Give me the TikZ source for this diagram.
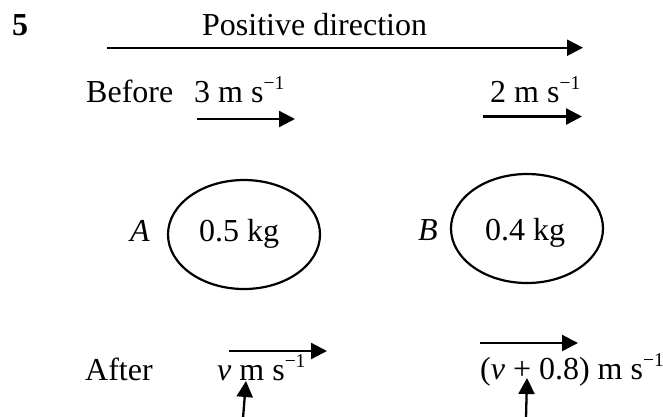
\documentclass[tikz,border=0pt]{standalone}
\usepackage{fontspec}
\setmainfont{Liberation Serif}
\usetikzlibrary{arrows.meta,shapes.geometric}
\newcommand{\supmo}{\raisebox{12.5pt}{\fontsize{19.5}{20}\selectfont −1}}
\begin{document}
\begin{tikzpicture}[x=1pt,y=-1pt,
  txt/.style={anchor=base west, inner sep=0pt, font=\fontsize{32}{38}\selectfont},
  arr/.style={line width=2.3pt, -{Triangle[length=16pt,width=16pt]}},
  ball/.style={draw, ellipse, line width=2.2pt, minimum width=152pt, minimum height=109pt, inner sep=0pt}]
\useasboundingbox (0,0) rectangle (663,416);
% texts
\node[txt] (num) at (12,35) {\textbf{5}};
\node[txt] (pos) at (202,35) {Positive direction};
\node[txt] (before) at (86,102) {Before};
\node[txt] (va) at (194,102) {3 m s\supmo};
\node[txt] (vb) at (490,102) {2 m s\supmo};
\node[txt] (la) at (130,241) {\textit{A}};
\node[txt] (lb) at (418,240) {\textit{B}};
\node[ball] (ea) at (244,234.5) {};
\node[ball] (eb) at (527,228.5) {};
\node[txt] (ma) at (199,241) {0.5 kg};
\node[txt] (mb) at (485,240) {0.4 kg};
\node[txt] (after) at (85,380) {After};
\node[txt] (ua) at (217,380) {\textit{v} m s\supmo};
\node[txt] (ub) at (480,379) {(\textit{v} + 0.8) m s\supmo};
% arrow ends
\coordinate (p1) at (107,47.7);  \coordinate (p2) at (583,47.7);
\coordinate (a1) at (197,119);   \coordinate (a2) at (295,119);
\coordinate (b1) at (483,116.5); \coordinate (b2) at (582,116.5);
\coordinate (c1) at (229,351);   \coordinate (c2) at (327,351);
\coordinate (d1) at (480,343);   \coordinate (d2) at (578,343);
\coordinate (e1) at (243,418);   \coordinate (e2) at (246,381);
\coordinate (f1) at (526,418);   \coordinate (f2) at (527,378);
\draw[arr] (p1) -- (p2);
\draw[arr] (a1) -- (a2);
\draw[arr] (b1) -- (b2);
\draw[arr] (c1) -- (c2);
\draw[arr] (d1) -- (d2);
\draw[arr] (e1) -- (e2);
\draw[arr] (f1) -- (f2);
\end{tikzpicture}
\end{document}
